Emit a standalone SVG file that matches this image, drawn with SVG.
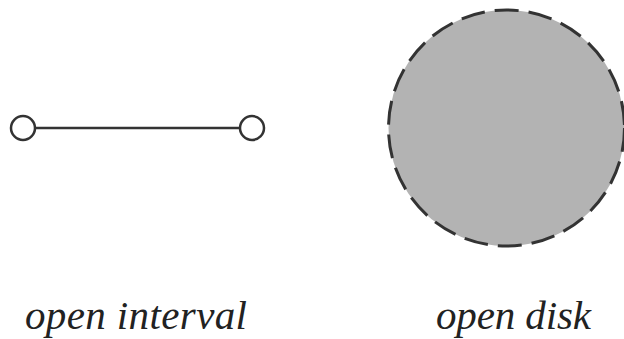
<svg xmlns="http://www.w3.org/2000/svg" width="624" height="339" viewBox="0 0 624 339">
  <style>
    .edge { stroke: #333; stroke-width: 2.5; fill: none; }
    .endpoint { fill: #fff; stroke: #333; stroke-width: 2.5; }
    .disk { fill: #b3b3b3; stroke: #333; stroke-width: 3; stroke-dasharray: 24 10; }
  </style>
  <rect width="624" height="339" fill="#fff"/>

  <g id="connectors">
    <line class="edge" x1="35" y1="128" x2="240" y2="128"/>
  </g>

  <g id="interval-left">
    <circle class="endpoint" cx="23" cy="128" r="12"/>
  </g>
  <g id="interval-right">
    <circle class="endpoint" cx="252" cy="128" r="12"/>
  </g>

  <g id="disk">
    <circle class="disk" cx="506.5" cy="128" r="118"/>
  </g>

  <g id="labels">
    <text x="25" y="329" font-family="'Liberation Serif'" font-style="italic" font-size="41" fill="#222" textLength="222" lengthAdjust="spacing">open interval</text>
    <text x="436" y="329" font-family="'Liberation Serif'" font-style="italic" font-size="41" fill="#222" textLength="155" lengthAdjust="spacing">open disk</text>
  </g>
</svg>
